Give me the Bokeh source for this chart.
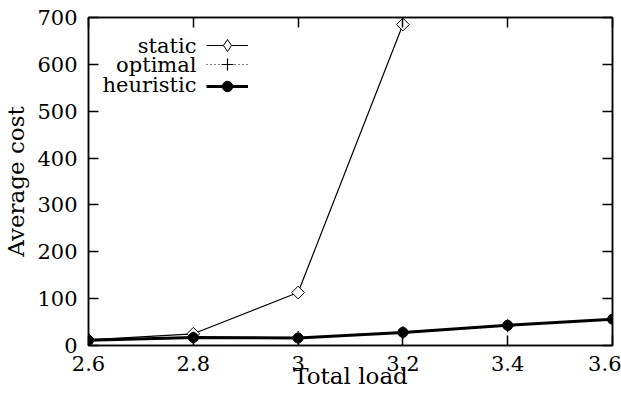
import numpy as np
from bokeh.plotting import figure
from bokeh.models import (FixedTicker, LinearAxis, Range1d, Legend, LegendItem, Label)
from bokeh.embed import file_html
from bokeh.resources import INLINE

load = [2.6, 2.8, 3.0, 3.2, 3.4, 3.6]
static_load = [2.6, 2.8, 3.0, 3.2]
static_cost = [12, 25, 113, 685]
optimal_cost = [11, 16, 17, 27, 42, 57]
heuristic_cost = [11, 17, 16, 28, 43, 56]
x_ticks = [2.6, 2.8, 3.0, 3.2, 3.4, 3.6]
x_tick_labels = ["2.6", "2.8", "3", "3.2", "3.4", "3.6"]
y_ticks = [0, 100, 200, 300, 400, 500, 600, 700]
series_names = ["static", "optimal", "heuristic"]
x_title = "Total load"
y_title = "Average cost"

FONT = "DejaVu Serif"
FS = "21px"
FS_TITLE = "23px"

x_min, x_max = 2.6, 3.6
p = figure(width=621, height=396, output_backend="svg", toolbar_location=None,
           x_range=Range1d(x_min, x_max), y_range=Range1d(0, 700),
           min_border_left=85, min_border_right=9, min_border_top=17, min_border_bottom=51)
p.xgrid.visible = False
p.ygrid.visible = False
p.outline_line_color = "black"
p.outline_line_width = 1.5
p.background_fill_color = "white"
p.border_fill_color = "white"

def style_axis(ax, labels=True):
    ax.axis_line_color = "black"
    ax.axis_line_width = 1.5
    ax.major_tick_in = 10
    ax.major_tick_out = 0
    ax.minor_tick_line_color = None
    ax.major_tick_line_color = "black"
    ax.major_tick_line_width = 1.5
    ax.major_label_text_font = FONT
    ax.major_label_text_font_size = FS if labels else "0px"
    ax.major_label_text_color = "black"
    ax.axis_label_text_font = FONT
    ax.axis_label_text_font_size = FS_TITLE
    ax.axis_label_text_font_style = "normal"
    ax.axis_label_text_color = "black"

xa = p.xaxis[0]
ya = p.yaxis[0]
xa.ticker = FixedTicker(ticks=x_ticks)
ya.ticker = FixedTicker(ticks=y_ticks)
xa.major_label_overrides = {t: l for t, l in zip(x_ticks, x_tick_labels)}
style_axis(xa)
style_axis(ya)
xa.axis_label = x_title
ya.axis_label = y_title
xa.major_label_standoff = 10
xa.axis_label_standoff = -11
ya.major_label_standoff = 11
ya.axis_label_standoff = 5

top = LinearAxis(ticker=FixedTicker(ticks=x_ticks))
right = LinearAxis(ticker=FixedTicker(ticks=y_ticks))
for ax in (top, right):
    style_axis(ax, labels=False)
    ax.major_label_standoff = 0
p.add_layout(top, "above")
p.add_layout(right, "right")

r_static = p.line(static_load, static_cost, line_color="black", line_width=1.2)
m_static = p.scatter(static_load, static_cost, marker="square", angle=np.pi / 4, size=9,
                     fill_color="white", line_color="black", line_width=1)
# legend-only stand-in for the diamond symbol (not drawn in the plot area)
leg_static = p.scatter(x=[np.nan], y=[np.nan], marker="diamond", size=12,
                       fill_color="white", line_color="black", line_width=1)
r_opt = p.line(load, optimal_cost, line_color="black", line_width=1.2, line_dash="1 3")
m_opt = p.scatter(load, optimal_cost, marker="cross", size=13, line_color="black", line_width=1.2)
r_heu = p.line(load, heuristic_cost, line_color="black", line_width=3)
m_heu = p.scatter(load, heuristic_cost, marker="circle", size=10, fill_color="black", line_color="black")

legend_renderers = [[r_static, leg_static], [r_opt, m_opt], [r_heu, m_heu]]
row_y = [300, 280.5, 261]   # row centres, px above the frame bottom
for name, rends, yc in zip(series_names, legend_renderers, row_y):
    lg = Legend(items=[LegendItem(label=" ", renderers=rends)],
                location=(118, int(round(yc - 15))), orientation="vertical")
    lg.padding = 0
    lg.margin = 0
    lg.spacing = 0
    lg.glyph_width = 42
    lg.glyph_height = 30 if name != "heuristic" else 26
    lg.label_width = 0
    lg.label_height = 10
    lg.label_standoff = 0
    lg.label_text_font_size = "8px"
    lg.border_line_color = None
    lg.background_fill_alpha = 0
    p.add_layout(lg)
    p.add_layout(Label(x=108, y=yc, x_units="screen", y_units="screen",
                       text=name, text_align="right", text_baseline="middle",
                       text_font=FONT, text_font_size=FS, text_color="black"))

open("out.html", "w").write(file_html(p, INLINE))
